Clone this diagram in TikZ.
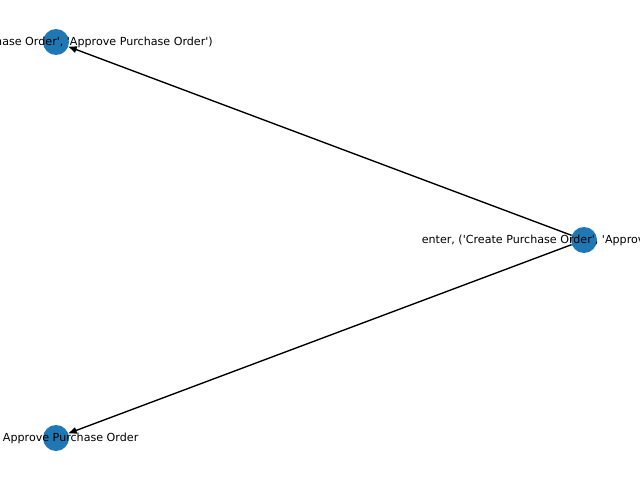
\documentclass[tikz,border=0pt]{standalone}
\usepackage{fontspec}
\setmainfont[Ligatures=NoCommon]{DejaVu Sans}
\usetikzlibrary{arrows.meta}
\definecolor{nodeblue}{HTML}{1F78B4}
\newcommand{\sq}{\textquotesingle}
\begin{document}
\begin{tikzpicture}[x=0.72pt,y=-0.72pt,
  state/.style={circle,fill=nodeblue,draw=none,minimum size=26*0.72pt,inner sep=0pt},
  lbl/.style={inner sep=0pt,font=\fontsize{8pt}{9.6pt}\selectfont,text=black},
  edge/.style={line width=1pt,-{Triangle[length=6pt,width=4.6pt]},shorten >=0pt}]
\useasboundingbox (0,0) rectangle (640,480);
\clip (0,0) rectangle (640,480);
% states
\node[state] (a) at (56,42) {};
\node[state] (b) at (584,240) {};
\node[state] (c) at (56,438) {};
% transitions
\draw[edge] (b) -- (a);
\draw[edge] (b) -- (c);
% labels
\node[lbl,anchor=east] (la) at (213,42) {hase Order\sq, \sq Approve Purchase Order\sq)};
\node[lbl,anchor=west] (lb) at (421.5,240) {enter, (\sq Create Purchase Order\sq, \sq Approve Purchase Order\sq)};
\node[lbl,anchor=west] (lc) at (2.7,438) {Approve Purchase Order};
\end{tikzpicture}
\end{document}
